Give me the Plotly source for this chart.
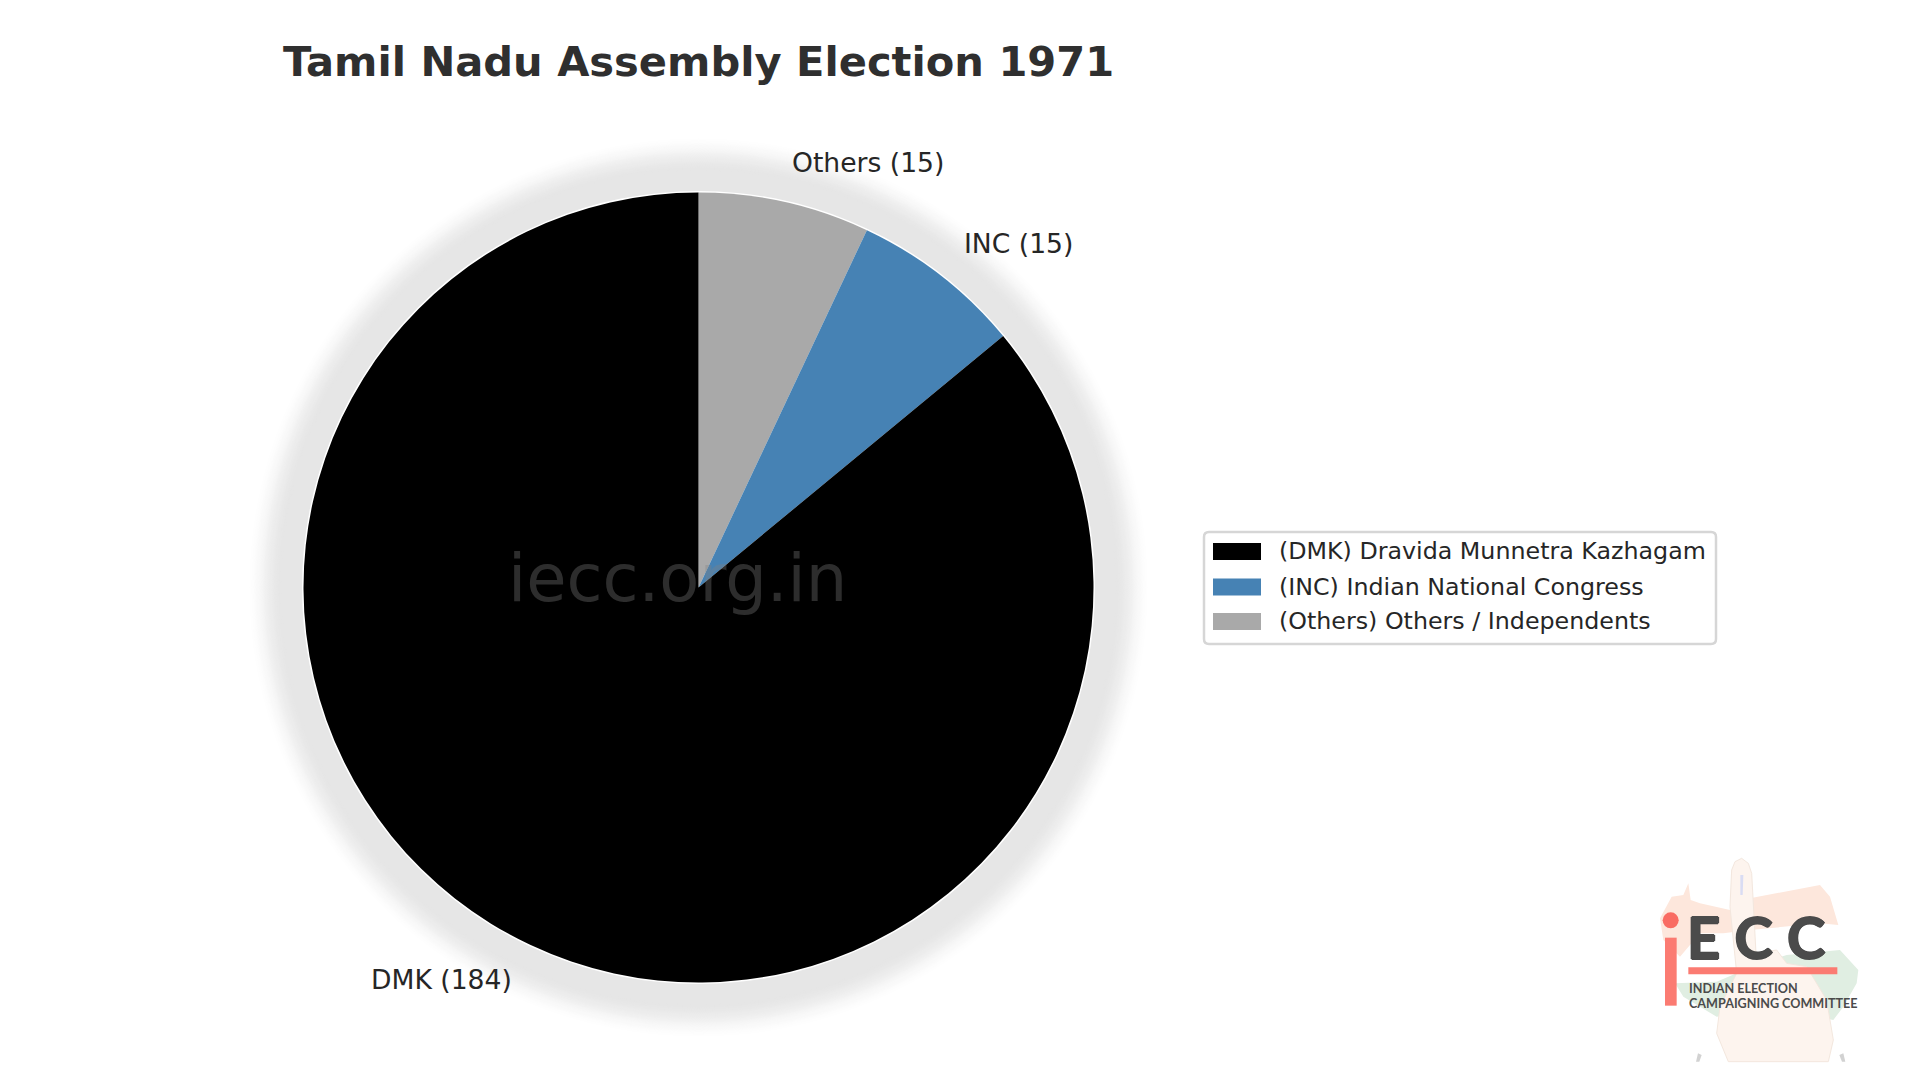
import math
import plotly.graph_objects as go

W = 1920
H = 1080

# data
parties = ["DMK", "INC", "Others"]
seats = [184, 15, 15]
full_names = ["Dravida Munnetra Kazhagam", "Indian National Congress", "Others / Independents"]
colors = ["#000000", "#4682b4", "#a9a9a9"]

title = "Tamil Nadu Assembly Election 1971"
watermark = "iecc.org.in"

# pie position in pixels
cx = 698.5
cy = 587.5
radius = 395
font = "DejaVu Sans"


def px(x):
    return x / W


def py(y):
    return 1 - y / H


def circle(x, y, r, color, layer="below"):
    return dict(type="circle", xref="paper", yref="paper", layer=layer,
                x0=px(x - r), x1=px(x + r), y0=py(y + r), y1=py(y - r),
                fillcolor=color, line=dict(width=0))


def rect(x0, y0, x1, y1, color):
    return dict(type="rect", xref="paper", yref="paper", layer="below",
                x0=px(x0), x1=px(x1), y0=py(y1), y1=py(y0),
                fillcolor=color, line=dict(width=0))


def round_box(x0, y0, x1, y1, r, color, edge):
    # rounded legend frame
    d = (f"M{px(x0 + r)},{py(y0)} L{px(x1 - r)},{py(y0)} Q{px(x1)},{py(y0)} {px(x1)},{py(y0 + r)} "
         f"L{px(x1)},{py(y1 - r)} Q{px(x1)},{py(y1)} {px(x1 - r)},{py(y1)} "
         f"L{px(x0 + r)},{py(y1)} Q{px(x0)},{py(y1)} {px(x0)},{py(y1 - r)} "
         f"L{px(x0)},{py(y0 + r)} Q{px(x0)},{py(y0)} {px(x0 + r)},{py(y0)} Z")
    return dict(type="path", xref="paper", yref="paper", layer="below", path=d,
                fillcolor=color, line=dict(color=edge, width=2.5))


def label(x, y, text, size, color="#262626", anchor="left", family=font, bold=False):
    return dict(xref="paper", yref="paper", x=px(x), y=py(y), text=f"<b>{text}</b>" if bold else text,
                showarrow=False, xanchor=anchor, yanchor="middle",
                font=dict(family=family, size=size, color=color))


# logo pieces, points
def lx(x):
    return 1600 + x / 3


def ly(y):
    return 840 + y / 3


def logo_path(points, color, edge=None):
    d = "M" + " L".join(f"{px(lx(a)):.5f},{py(ly(b)):.5f}" for a, b in points) + " Z"
    return dict(type="path", xref="paper", yref="paper", layer="below", path=d, fillcolor=color,
                line=dict(color=edge, width=1) if edge else dict(width=0))


saffron_pts = [(180, 235), (215, 170), (250, 165), (265, 130), (272, 180), (300, 190), (390, 210),
               (450, 175), (660, 135), (690, 170), (715, 255), (660, 250), (450, 270), (370, 280),
               (300, 280), (240, 350), (190, 300)]
green_pts = [(225, 430), (350, 425), (480, 370), (560, 345), (720, 330), (775, 390), (770, 430),
             (730, 500), (700, 540), (600, 520), (480, 510), (350, 530), (300, 500), (250, 470)]
finger_pts = [(395, 90), (405, 65), (425, 55), (445, 70), (455, 100), (468, 340), (530, 330),
              (560, 370), (620, 380), (680, 480), (700, 600), (685, 665), (385, 665), (350, 580),
              (360, 500), (410, 400), (390, 200)]
ink_pts = [(421, 105), (430, 105), (428, 165), (421, 165)]
tick_left = [(288, 665), (294, 640), (305, 645), (298, 665)]
tick_right = [(718, 645), (730, 640), (736, 665), (726, 665)]
dark = "#4b4b4b"
red = "#fb7b72"

shapes = []

# soft grey halo around the pie, fades out over about 36 px
for off in range(58, 21, -1):
    t = (58 - off) / 36
    t = t * t * (3 - 2 * t)
    g = round(255 - t * 25)
    shapes.append(circle(cx, cy, radius + off, f"rgb({g},{g},{g})"))
shapes.append(circle(cx, cy, radius + 1.5, "#ffffff"))

# legend box and swatches
shapes.append(round_box(1204, 532, 1716, 644, 5, "#ffffff", "#d6d6d6"))
legend_y = [551, 586.5, 621]
for yy, c in zip(legend_y, colors):
    shapes.append(rect(1213, yy - 8, 1261, yy + 9, c))

# logo
shapes.append(logo_path(saffron_pts, "#fde7dc"))
shapes.append(logo_path(green_pts, "#e0eee2"))
shapes.append(logo_path(finger_pts, "#fdf4ee", "#f3e7de"))
shapes.append(logo_path(ink_pts, "#d9dcf3"))
shapes.append(logo_path(tick_left, "#d2d2d2"))
shapes.append(logo_path(tick_right, "#d2d2d2"))
shapes.append(circle(lx(212), ly(241), 8, "#f96c63"))
shapes.append(rect(lx(195), ly(293), lx(230), ly(497), red))
shapes.append(rect(lx(265), ly(382), lx(712), ly(403), red))

annotations = []

# slice labels at 1.1 radius like the original
total = sum(seats)
start = 0
for party, n in zip(parties, seats):
    mid = start + n / total * 180
    start += n / total * 360
    lxp = cx - 1.1 * radius * math.sin(math.radians(mid))
    lyp = cy - 1.1 * radius * math.cos(math.radians(mid))
    # nudge for annotation padding
    if lxp > cx:
        annotations.append(label(lxp - 3, lyp - 1, f"{party} ({n})", 26.6, "#262626", "left"))
    else:
        annotations.append(label(lxp + 1, lyp - 1, f"{party} ({n})", 26.6, "#262626", "right"))

for yy, party, name in zip(legend_y, parties, full_names):
    annotations.append(label(1277, yy, f"({party}) {name}", 23.75, "#262626"))

annotations.append(label(677, 578, watermark, 65.5, "rgba(128,128,128,0.35)", "center"))
annotations.append(label(698, 62, title, 41.6, "#2f2f2f", "center", bold=True))

# logo text
ecc = label(lx(254), ly(290), "E C C", 58, dark, "left", "Lato", True)
ecc["font"]["shadow"] = f"1px 0 {dark}, -1px 0 {dark}, 0 1px {dark}, 0 -1px {dark}"
annotations.append(ecc)
annotations.append(label(lx(260), ly(445), "INDIAN ELECTION", 12.6, dark, "left", "Lato", True))
annotations.append(label(lx(260), ly(490), "CAMPAIGNING COMMITTEE", 12.6, dark, "left", "Lato", True))

fig = go.Figure()

# clockwise from the top, so the small slices come first
fig.add_trace(
    go.Pie(
        labels=parties[::-1],
        values=seats[::-1],
        sort=False,
        direction="clockwise",
        rotation=0,
        textinfo="none",
        hoverinfo="label+value",
        marker=dict(colors=colors[::-1], line=dict(width=0)),
        domain=dict(x=[px(cx - radius), px(cx + radius)], y=[py(cy + radius), py(cy - radius)]),
        showlegend=False,
    )
)

fig.update_layout(
    width=W,
    height=H,
    margin=dict(l=0, r=0, t=0, b=0),
    paper_bgcolor="white",
    shapes=shapes,
    annotations=annotations,
)

fig.write_html("out.html", config=dict(displayModeBar=False), post_script="document.body.style.margin='0';")
